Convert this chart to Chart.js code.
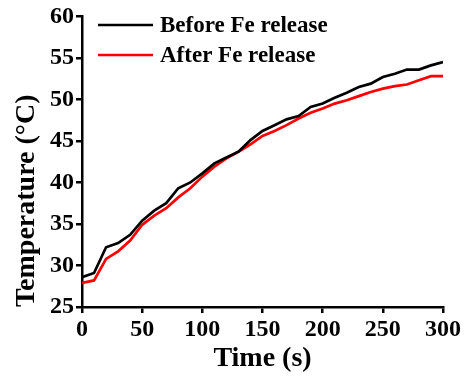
<!DOCTYPE html>
<html>
<head>
<meta charset="utf-8">
<script src="https://cdn.jsdelivr.net/npm/chart.js@4/dist/chart.umd.min.js"></script>
<style>
  html, body { margin: 0; padding: 0; background: #fff; }
  #wrap { width: 464px; height: 378px; }
</style>
</head>
<body>
<div id="wrap"><canvas id="grafico"></canvas></div>
<script>
const tiempos = [0, 10, 20, 30, 40, 50, 60, 70, 80, 90, 100, 110, 120, 130, 140, 150,
  160, 170, 180, 190, 200, 210, 220, 230, 240, 250, 260, 270, 280, 290, 300];
const antes = [28.6, 29.1, 32.2, 32.7, 33.7, 35.4, 36.6, 37.5, 39.3, 40.0, 41.1, 42.3, 43.0, 43.7, 45.1, 46.2,
  46.9, 47.6, 48.0, 49.1, 49.5, 50.2, 50.8, 51.5, 51.9, 52.7, 53.1, 53.6, 53.6, 54.1, 54.5];
const despues = [27.9, 28.2, 30.8, 31.7, 33.0, 34.9, 36.0, 36.9, 38.2, 39.3, 40.7, 41.9, 42.9, 43.7, 44.6, 45.6,
  46.2, 46.9, 47.7, 48.4, 48.9, 49.5, 49.9, 50.4, 50.9, 51.3, 51.6, 51.8, 52.3, 52.8, 52.8];
const etiquetas = ['Before Fe release', 'After Fe release'];
const colores = ['#000000', '#ff0000'];

const fuente = 'Liberation Serif, Times New Roman, serif';

const leyenda = {
  id: 'leyenda',
  afterDraw(chart) {
    const ctx = chart.ctx;
    ctx.save();
    chart.data.datasets.forEach((ds, i) => {
      const y = 25 + i * 30;
      ctx.strokeStyle = ds.borderColor;
      ctx.lineWidth = 2.5;
      ctx.beginPath();
      ctx.moveTo(98, y);
      ctx.lineTo(153, y);
      ctx.stroke();
      ctx.fillStyle = '#000';
      ctx.font = 'bold 23px ' + fuente;
      ctx.textBaseline = 'middle';
      ctx.fillText(ds.label, 160, y + 1);
    });
    ctx.restore();
  }
};

new Chart(document.getElementById('grafico'), {
  type: 'line',
  data: {
    datasets: [
      {
        label: etiquetas[0],
        data: tiempos.map((t, i) => ({ x: t, y: antes[i] })),
        borderColor: colores[0],
        borderWidth: 2.7,
        pointRadius: 0,
        fill: false,
        tension: 0
      },
      {
        label: etiquetas[1],
        data: tiempos.map((t, i) => ({ x: t, y: despues[i] })),
        borderColor: colores[1],
        borderWidth: 2.7,
        pointRadius: 0,
        fill: false,
        tension: 0
      }
    ]
  },
  options: {
    responsive: true,
    maintainAspectRatio: false,
    animation: false,
    layout: { padding: { top: 16, right: 21, left: 0, bottom: 0 } },
    plugins: {
      legend: { display: false },
      tooltip: { enabled: false }
    },
    scales: {
      x: {
        type: 'linear',
        min: 0,
        max: 300,
        afterFit: s => { s.height = 71; },
        ticks: { stepSize: 50, color: '#000', padding: 2, font: { family: fuente, size: 24, weight: 'bold' } },
        grid: { drawOnChartArea: false, color: '#000', lineWidth: 2.5, tickLength: 6 },
        border: { color: '#000', width: 2.5 },
        title: { display: true, text: 'Time (s)', color: '#000', padding: { top: 0, bottom: 2 }, font: { family: fuente, size: 28, weight: 'bold' } }
      },
      y: {
        min: 25,
        max: 60,
        afterFit: s => { s.width = 82; },
        ticks: { stepSize: 5, color: '#000', padding: 2, font: { family: fuente, size: 24, weight: 'bold' } },
        grid: { drawOnChartArea: false, color: '#000', lineWidth: 2.5, tickLength: 6 },
        border: { color: '#000', width: 2.5 },
        title: { display: true, align: 'start', text: 'Temperature (°C)', color: '#000', padding: { top: 10, bottom: 0 }, font: { family: fuente, size: 28, weight: 'bold' } }
      }
    }
  },
  plugins: [leyenda]
});
</script>
</body>
</html>
